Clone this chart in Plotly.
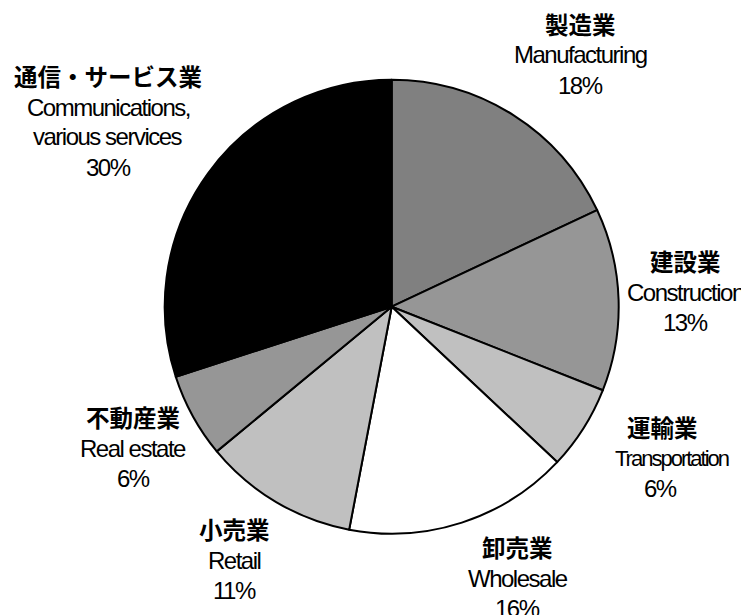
import plotly.graph_objects as go

W, H = 749, 615
OFF = 8  # default page margin of the html body

labels_ja = ["製造業", "建設業", "運輸業", "卸売業", "小売業", "不動産業", "通信・サービス業"]
labels_en = [["Manufacturing"], ["Construction"], ["Transportation"], ["Wholesale"], ["Retail"],
             ["Real estate"], ["Communications,", "various services"]]
values = [18, 13, 6, 16, 11, 6, 30]
colors = ["#808080", "#969696", "#c0c0c0", "#ffffff", "#c0c0c0", "#969696", "#000000"]

# label line centers in reference pixels: x per label (Japanese, English, percent), y of first line
label_x = [(580, 580, 580), (685, 685, 685), (662, 672, 660), (518, 518, 518),
           (234, 234, 234), (133, 133, 133), (108, 108, 108)]
label_y = [24, 261, 427, 547, 529, 417, 76]
en_style = [(24, -1.5), (24, -1.5), (22, -2.0), (24, -1.5), (24, -1.5), (24, -1.5), (24, -1.5)]

cx, cy, r = 391.7 - OFF, 306.7 - OFF, 227
fig = go.Figure(go.Pie(
    values=values, labels=labels_ja,
    marker=dict(colors=colors, line=dict(color="black", width=2)),
    sort=False, direction="clockwise", rotation=0,
    textinfo="none", hoverinfo="none", showlegend=False,
    domain=dict(x=[(cx - r) / W, (cx + r) / W], y=[(H - cy - r) / H, (H - cy + r) / H]),
))

JA_FONT = "Noto Sans CJK JP"
EN_FONT = "Liberation Sans, Arial, sans-serif"
for ja, en, v, xs, py, (esz, els) in zip(labels_ja, labels_en, values, label_x, label_y, en_style):
    py -= OFF
    lines = [(ja, JA_FONT, 23.5, "bold", "", xs[0])]
    for part in en:
        lines.append((part, EN_FONT, esz, "normal", f"letter-spacing:{els}px", xs[1]))
    lines.append((f"{v}%", EN_FONT, 24, "normal", "letter-spacing:-1.5px", xs[2]))
    for i, (txt, f, s, w, st, px) in enumerate(lines):
        px -= OFF
        y = py + (0 if i == 0 else 31 + (i - 1) * 30)
        if st:
            txt = f'<span style="{st}">{txt}</span>'
        fig.add_annotation(
            x=px / W, y=1 - y / H, xref="paper", yref="paper",
            text=txt, showarrow=False, xanchor="center", yanchor="middle",
            font=dict(family=f, size=s, color="#000000", weight=w),
        )

fig.update_layout(width=W, height=H, margin=dict(l=0, r=0, t=0, b=0),
                  paper_bgcolor="white", plot_bgcolor="white")
fig.write_html("out.html")
